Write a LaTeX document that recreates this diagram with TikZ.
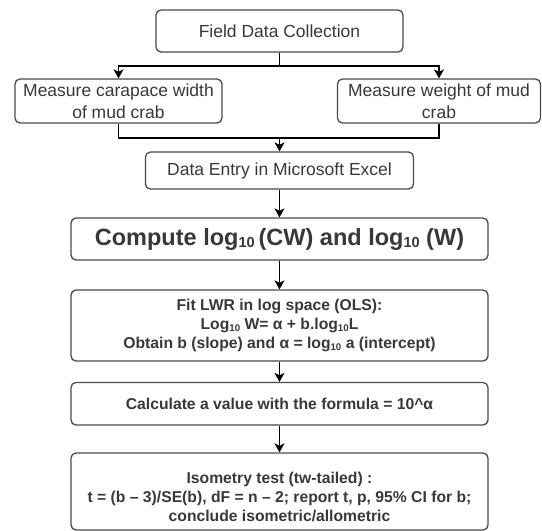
\documentclass[tikz,border=0pt]{standalone}
\usepackage{fontspec}
\setmainfont{Liberation Sans}
\usetikzlibrary{arrows.meta}
\definecolor{boxline}{HTML}{4A4A4A}
\definecolor{txt}{HTML}{383838}
\newcommand\lsub[1]{\raisebox{-0.12em}{\scalebox{0.62}{#1}}}
\begin{document}
\begin{tikzpicture}[x=1pt,y=-1pt,
 box/.style={draw=boxline, line width=1.3pt, rounded corners=5pt, inner sep=0pt, align=center, text=txt},
 plain/.style={inner sep=0pt, align=center, text=txt},
 big/.style={font=\fontsize{17.5}{21.5}\selectfont},
 bf/.style={font=\bfseries\fontsize{15.7}{19.3}\selectfont},
 arr/.style={-{Stealth[length=9pt,width=10pt,inset=2.5pt]}, line width=1.3pt, black},
 ln/.style={line width=1.3pt, black}]
\useasboundingbox (0,0) rectangle (542,531);
\node[box, big, minimum width=247pt, minimum height=42pt] (field) at (279.5,31) {Field Data Collection};
\node[box, big, minimum width=207pt, minimum height=44pt] (left) at (118.5,101) {Measure carapace width\\of mud crab};
\node[box, big, minimum width=203pt, minimum height=44pt] (right) at (439,101) {Measure weight of mud\\crab};
\node[box, big, minimum width=268pt, minimum height=37pt] (data) at (279.5,170.5) {Data Entry in Microsoft Excel};
\node[box, font=\bfseries\fontsize{23.5}{28}\selectfont, minimum width=417pt, minimum height=42pt] (compute) at (279.5,239) {Compute log\lsub{10}\,(CW) and log\lsub{10} (W)};
\node[box, bf, minimum width=417pt, minimum height=71pt] (fit) at (279.5,325.5) {Fit LWR in log space (OLS):\\Log\lsub{10} W= α + b.log\lsub{10}L\\Obtain b (slope) and α = log\lsub{10} a (intercept)};
\node[box, bf, minimum width=417pt, minimum height=42.5pt] (calc) at (279.5,403.75) {Calculate a value with the formula = 10\textasciicircum α};
\node[box, minimum width=417pt, minimum height=77pt] (iso) at (279.5,491.5) {};
\node[plain, bf] (isotext) at (279.5,497) {Isometry test (tw-tailed) :\\t = (b – 3)/SE(b), dF = n – 2; report t, p, 95\% CI for b;\\conclude isometric/allometric};
\coordinate (split) at (279.5,66);
\coordinate (merge) at (279.5,138);
\draw[ln] (field.south) -- (split);
\draw[arr] (split) -| (left.north);
\draw[arr] (split) -| (right.north);
\draw[ln] (left.south) |- (merge);
\draw[ln] (right.south) |- (merge);
\draw[arr] (merge) -- (data.north);
\draw[arr] (data.south) -- (compute.north);
\draw[arr] (compute.south) -- (fit.north);
\draw[arr] (fit.south) -- (calc.north);
\draw[arr] (calc.south) -- (iso.north);
\end{tikzpicture}
\end{document}
